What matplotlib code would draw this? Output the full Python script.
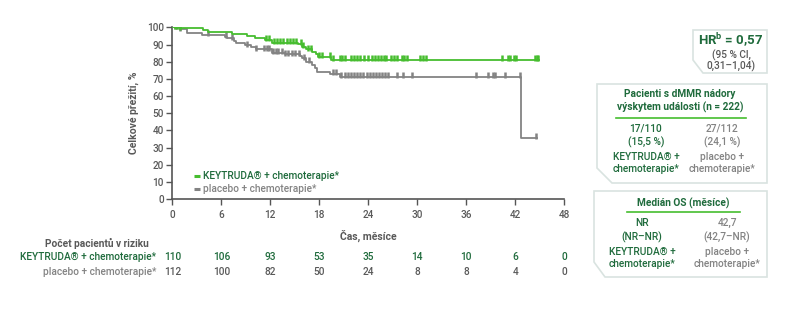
import matplotlib
matplotlib.use("Agg")
import matplotlib.pyplot as plt
from matplotlib.patches import Polygon
from matplotlib.transforms import blended_transform_factory

plt.rcParams['font.family'] = ['Roboto', 'DejaVu Sans']
plt.rcParams['font.weight'] = 'medium'

# KM steps (months, % alive)
key_t = [0, 0.9, 3.7, 4.4, 7.3, 9.1, 10.1, 11.4, 12.2, 15.4, 15.9, 16.4, 17.1, 17.6, 17.9, 19.4]
key_s = [100, 99.4, 98.4, 97.5, 96.1, 94.9, 93.6, 92.6, 91.0, 90.3, 88.7, 87.2, 85.8, 84.3, 82.9, 81.2]
key_cens = [0.3, 0.6, 1.0, 11.5, 11.8, 12.4, 12.8, 13.2, 13.6, 14.0, 14.4, 14.8, 15.1, 15.7, 16.0,
            16.6, 17.0, 18.0, 18.3, 19.3, 19.7, 20.5, 20.8, 21.1, 21.9, 22.2, 22.6, 23.0, 23.5, 24.0,
            24.4, 24.8, 25.2, 25.5, 25.9, 26.2, 26.8, 27.2, 27.5, 28.1, 28.4, 28.8, 30.3, 30.7, 31.1,
            40.4, 41.1, 41.4, 41.8, 42.1, 44.4, 44.6, 44.8]
key_end = 44.9

pla_t = [0, 0.9, 1.8, 3.6, 6.45, 6.7, 7.5, 7.8, 8.9, 9.6, 10.2, 12.2, 13.8, 15.6, 15.9, 16.4,
         17.1, 17.5, 17.7, 19.3, 20.5, 42.7]
pla_s = [100, 98.8, 96.9, 95.7, 94.5, 93.6, 92.2, 90.7, 89.5, 88.3, 87.2, 85.2, 84.3, 83.3, 81.9, 80.0,
         78.0, 76.1, 74.2, 73.0, 71.0, 35.5]
pla_cens = [0.3, 0.6, 0.9, 4.4, 6.6, 7.3, 9.2, 10.2, 11.2, 11.6, 11.9, 12.3, 12.7, 13.0, 13.4, 13.8,
            14.2, 14.6, 15.0, 15.5, 16.1, 16.7, 19.7, 20.1, 20.7, 21.1, 21.5, 21.9, 22.3, 22.6, 23.0,
            23.4, 23.8, 24.2, 24.6, 25.0, 25.3, 25.7, 26.0, 26.4, 27.5, 28.3, 29.3, 37.2, 38.7, 39.3,
            39.5, 40.7, 42.6, 44.5]
pla_end = 44.6

xticks = [0, 6, 12, 18, 24, 30, 36, 42, 48]
yticks = [0, 10, 20, 30, 40, 50, 60, 70, 80, 90, 100]
risk_key = [110, 106, 93, 53, 35, 14, 10, 6, 0]
risk_pla = [112, 100, 82, 50, 24, 8, 8, 4, 0]

green = '#46bd2f'
dgreen = '#1f6b3c'
gray = '#838383'
tgray = '#595959'

W, H = 798, 319
fig = plt.figure(figsize=(W / 100, H / 100), dpi=100)
fig.patch.set_facecolor('white')

ax = fig.add_axes([172.3 / W, 1 - 199 / H, (564.3 - 172.3) / W, (199 - 26.5) / H])
ax.set_facecolor('none')


def step_at(ts, ss, x):
    v = ss[0]
    for t, s in zip(ts, ss):
        if t <= x:
            v = s
    return v


ax.step(key_t + [key_end], key_s + [key_s[-1]], where='post', color=green, lw=1.3, zorder=3)
ax.step(pla_t + [pla_end], pla_s + [pla_s[-1]], where='post', color=gray, lw=1.3, zorder=2)
ax.plot(key_cens, [step_at(key_t, key_s, c) + 1.0 for c in key_cens], ls='none',
        marker='|', ms=4.5, mew=1.8, color=green, zorder=3)
ax.plot(pla_cens, [step_at(pla_t, pla_s, c) + 1.0 for c in pla_cens], ls='none',
        marker='|', ms=4.5, mew=1.8, color=gray, zorder=2)

ax.set_xlim(0, 48)
ax.set_ylim(0, 100.5)
ax.set_xticks(xticks)
ax.set_yticks(yticks)
for s in ['top', 'right']:
    ax.spines[s].set_visible(False)
for s in ['left', 'bottom']:
    ax.spines[s].set_color('#555555')
    ax.spines[s].set_linewidth(1.2)
ax.tick_params(direction='out', length=4, width=1, color='#555555', labelsize=7.2,
               labelcolor=tgray, pad=2)
ax.tick_params(axis='x', pad=4)
ax.set_ylabel('Celkové přežití, %', fontsize=7.5, fontweight='bold', color=tgray, labelpad=6)
ax.set_xlabel('Čas, měsíce', fontsize=7.5, fontweight='bold', color=tgray, labelpad=7)

# legend
ax.plot([2.6, 3.4], [13.5, 13.5], color=green, lw=2.2, solid_capstyle='butt')
ax.plot([2.6, 3.4], [6, 6], color=gray, lw=2.2, solid_capstyle='butt')
ax.text(3.8, 13.5, 'KEYTRUDA® + chemoterapie*', color=dgreen, fontsize=7.3, va='center')
ax.text(3.8, 6, 'placebo + chemoterapie*', color=gray, fontsize=7.3, va='center')

# number at risk
tr = blended_transform_factory(ax.transData, fig.transFigure)
fig.text(149 / W, 1 - 243 / H, 'Počet pacientů v riziku', fontsize=7.3, fontweight='bold',
         color=tgray, ha='right', va='center')
fig.text(156 / W, 1 - 257 / H, 'KEYTRUDA® + chemoterapie*', fontsize=7.3, color=dgreen,
         ha='right', va='center')
fig.text(156 / W, 1 - 272 / H, 'placebo + chemoterapie*', fontsize=7.3, color=gray,
         ha='right', va='center')
for x, a, b in zip(xticks, risk_key, risk_pla):
    ax.text(x, 1 - 257 / H, str(a), transform=tr, fontsize=7.3, color=dgreen, ha='center', va='center')
    ax.text(x, 1 - 272 / H, str(b), transform=tr, fontsize=7.3, color=tgray, ha='center', va='center')


def px(x, y):
    return (x / W, 1 - y / H)


def box(x0, y0, x1, y1, cut_y, cut_x):
    pts = [px(x0, y0), px(x1, y0), px(x1, y1), px(cut_x, y1), px(x0, cut_y)]
    fig.patches.append(Polygon(pts, closed=True, transform=fig.transFigure, facecolor='white',
                               edgecolor='#d9e3e0', lw=1.2, zorder=1))


def line(x0, x1, y):
    fig.add_artist(plt.Line2D([x0 / W, x1 / W], [1 - y / H, 1 - y / H], color=green, lw=1.2))


def txt(x, y, s, **kw):
    fig.text(x / W, 1 - y / H, s, ha='center', va='center', **kw)


# HR box
box(693, 30, 767, 73, 60, 703)
txt(731, 40, 'HR$^\\mathregular{b}$ = 0,57', fontsize=9.5, fontweight='bold', color=dgreen)
txt(731, 55, '(95 % CI,', fontsize=7.3, color=tgray)
txt(731, 66, '0,31–1,04)', fontsize=7.3, color=tgray)

# events box
box(597, 84, 767, 183, 168, 612)
txt(680, 94, 'Pacienti s dMMR nádory', fontsize=7.3, fontweight='bold', color=dgreen)
txt(680, 107, 'výskytem události (n = 222)', fontsize=7.3, fontweight='bold', color=dgreen)
line(616, 746, 118)
for i, (a, b) in enumerate([('17/110', '27/112'), ('(15,5 %)', '(24,1 %)'),
                            ('KEYTRUDA® +', 'placebo +'), ('chemoterapie*', 'chemoterapie*')]):
    y = [128, 142, 157, 169][i]
    txt(646, y, a, fontsize=7.3, color=dgreen)
    txt(722, y, b, fontsize=7.3, color=gray)

# median box
box(594, 191, 767, 277, 262, 605)
txt(683, 203, 'Medián OS (měsíce)', fontsize=7.3, fontweight='bold', color=dgreen)
line(627, 740, 212)
for i, (a, b) in enumerate([('NR', '42,7'), ('(NR–NR)', '(42,7–NR)'),
                            ('KEYTRUDA® +', 'placebo +'), ('chemoterapie*', 'chemoterapie*')]):
    y = [223, 237, 252, 264][i]
    txt(642, y, a, fontsize=7.3, color=dgreen)
    txt(727, y, b, fontsize=7.3, color=gray)

fig.savefig('out.png', dpi=100)
